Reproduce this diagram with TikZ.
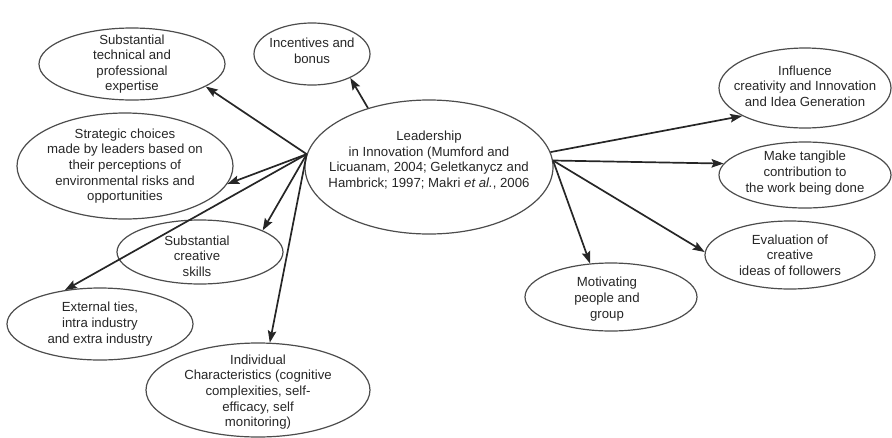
\documentclass[tikz,border=0pt]{standalone}
\usepackage{fontspec}
\setmainfont{Liberation Sans}
\usetikzlibrary{shapes.geometric,arrows.meta}
\begin{document}
\begin{tikzpicture}[x=1pt,y=-1pt,
  bubble/.style={ellipse,draw=black!70,line width=1.2pt,inner sep=0pt},
  lbl/.style={align=center,font=\fontsize{13.2}{15.6}\selectfont,text=black!85},
  link/.style={line width=1.7pt,draw=black!85,-{Stealth[length=12pt,width=8.5pt,inset=2pt]}}]
\useasboundingbox (0,0) rectangle (892,437);
% centre
\node[bubble,minimum width=248pt,minimum height=134pt,
  label={[lbl,yshift=7pt]center:{Leadership\\in Innovation (Mumford and\\Licuanam, 2004; Geletkanycz and\\Hambrick; 1997; Makri \emph{et al.}, 2006}}]
  (lead) at (429,167) {};
% left side
\node[bubble,minimum width=186pt,minimum height=72pt,
  label={[lbl]center:{Substantial\\technical and\\professional\\expertise}}] (tech) at (132,64) {};
\node[bubble,minimum width=116pt,minimum height=62pt,
  label={[lbl,yshift=3pt]center:{Incentives and\\bonus}}] (inc) at (312,54) {};
\node[bubble,minimum width=216pt,minimum height=106pt,
  label={[lbl]center:{Strategic choices\\made by leaders based on\\their perceptions of\\environmental risks and\\opportunities}}] (strat) at (125,166) {};
\node[bubble,minimum width=166pt,minimum height=64pt,
  label={[lbl,xshift=-3pt,yshift=-4pt]center:{Substantial\\creative\\skills}}] (creat) at (200,252) {};
\node[bubble,minimum width=186pt,minimum height=72pt,
  label={[lbl]center:{External ties,\\intra industry\\and extra industry}}] (ext) at (100,324) {};
\node[bubble,minimum width=224pt,minimum height=94pt,
  label={[lbl,yshift=-2pt]center:{Individual\\Characteristics (cognitive\\complexities, self-\\efficacy, self\\monitoring)}}] (indiv) at (258,390) {};
% right side
\node[bubble,minimum width=172pt,minimum height=80pt,
  label={[lbl,yshift=2pt]center:{Influence\\creativity and Innovation\\and Idea Generation}}] (infl) at (805,88) {};
\node[bubble,minimum width=172pt,minimum height=66pt,
  label={[lbl,yshift=2pt]center:{Make tangible\\contribution to\\the work being done}}] (make) at (805,175) {};
\node[bubble,minimum width=170pt,minimum height=68pt,
  label={[lbl]center:{Evaluation of\\creative\\ideas of followers}}] (eval) at (790,255) {};
\node[bubble,minimum width=172pt,minimum height=68pt,
  label={[lbl,xshift=-4pt,yshift=-2pt]center:{Motivating\\people and\\group}}] (motiv) at (611,297) {};
% arrows
\draw[link] (lead.136) -- (inc.-32);
\draw[link] (lead.174) -- (tech.-17);
\draw[link] (lead.174) -- (strat.-10);
\draw[link] (lead.174) -- (creat.19);
\draw[link] (lead.174) -- (ext.136);
\draw[link] (lead.174) -- (indiv.76);
\draw[link] (lead.7) -- (infl.204);
\draw[link] (lead.3) -- (make.172);
\draw[link] (lead.3) -- (eval.178);
\draw[link] (lead.3) -- (motiv.122);
\end{tikzpicture}
\end{document}
